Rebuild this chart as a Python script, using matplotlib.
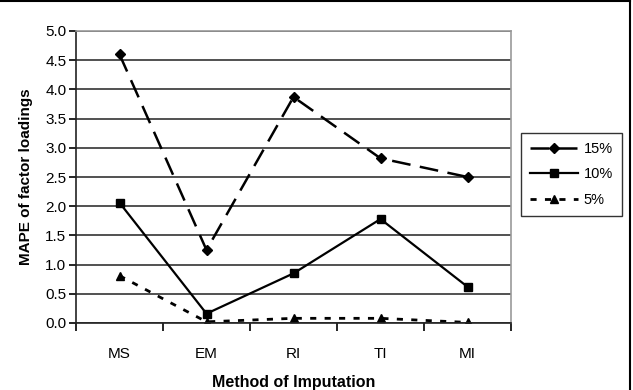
import matplotlib
matplotlib.use("Agg")
import matplotlib.pyplot as plt
from matplotlib.lines import Line2D

plt.rcParams['font.family'] = ['Liberation Sans', 'DejaVu Sans']

categories = ["MS", "EM", "RI", "TI", "MI"]
s15 = [4.60, 1.25, 3.87, 2.82, 2.50]
s10 = [2.06, 0.16, 0.85, 1.78, 0.62]
s5 = [0.81, 0.02, 0.08, 0.08, 0.01]
series_labels = ["15%", "10%", "5%"]
yticks = [0.0, 0.5, 1.0, 1.5, 2.0, 2.5, 3.0, 3.5, 4.0, 4.5, 5.0]

FS = 11

fig = plt.figure(figsize=(6.33, 3.90), dpi=100)
ax = fig.add_axes([76/633, 1-323/390, (511-76)/633, (323-31)/390])

x = list(range(len(categories)))
l1, = ax.plot(x, s15, color='black', lw=1.8, dashes=(7.5, 3.8), marker='D', ms=5, label=series_labels[0])
l2, = ax.plot(x, s10, color='black', lw=1.6, marker='s', ms=5.5, label=series_labels[1])
l3, = ax.plot(x, s5, color='black', lw=2.0, dashes=(2.2, 3.0), marker='^', ms=6, label=series_labels[2])

ax.set_xlim(-0.5, 4.5)
ax.set_ylim(0, 5.0)
ax.set_yticks(yticks)
ax.set_yticklabels([f"{v:.1f}" for v in yticks])
ax.set_xticks(x)
ax.set_xticklabels(categories)
ax.set_xticks([i - 0.5 for i in range(len(categories) + 1)], minor=True)
ax.tick_params(axis='x', which='major', length=0, pad=17, labelsize=FS)
ax.tick_params(axis='x', which='minor', length=6, width=1.2, direction='out')
ax.tick_params(axis='y', length=5, width=1.2, direction='out', labelsize=FS, pad=2)

ax.yaxis.grid(True, color='#222222', lw=1.1)
ax.set_axisbelow(True)
for s in ['top', 'right']:
    ax.spines[s].set_color('#999999')
    ax.spines[s].set_linewidth(1.2)
for s in ['left', 'bottom']:
    ax.spines[s].set_color('#222222')
    ax.spines[s].set_linewidth(1.2)

ax.set_ylabel("MAPE of factor loadings", fontsize=FS, fontweight='bold', labelpad=9)
ax.set_xlabel("Method of Imputation", fontsize=FS + 0.5, fontweight='bold', labelpad=10)

leg = fig.legend(handles=[l1, l2, l3], loc='upper left',
                 bbox_to_anchor=(521/633, 1-133/390), bbox_transform=fig.transFigure,
                 frameon=True, fancybox=False, edgecolor='black', fontsize=10.5,
                 handlelength=3.3, handletextpad=0.4, borderpad=0.6, labelspacing=0.8,
                 borderaxespad=0)
leg.get_frame().set_linewidth(1.0)

# outer figure border (top and right visible)
fig.add_artist(Line2D([0, 630/633], [1-1/390, 1-1/390], transform=fig.transFigure, color='black', lw=1.5))
fig.add_artist(Line2D([630/633, 630/633], [0, 1-1/390], transform=fig.transFigure, color='black', lw=1.5))

fig.savefig("out.png", dpi=100)
